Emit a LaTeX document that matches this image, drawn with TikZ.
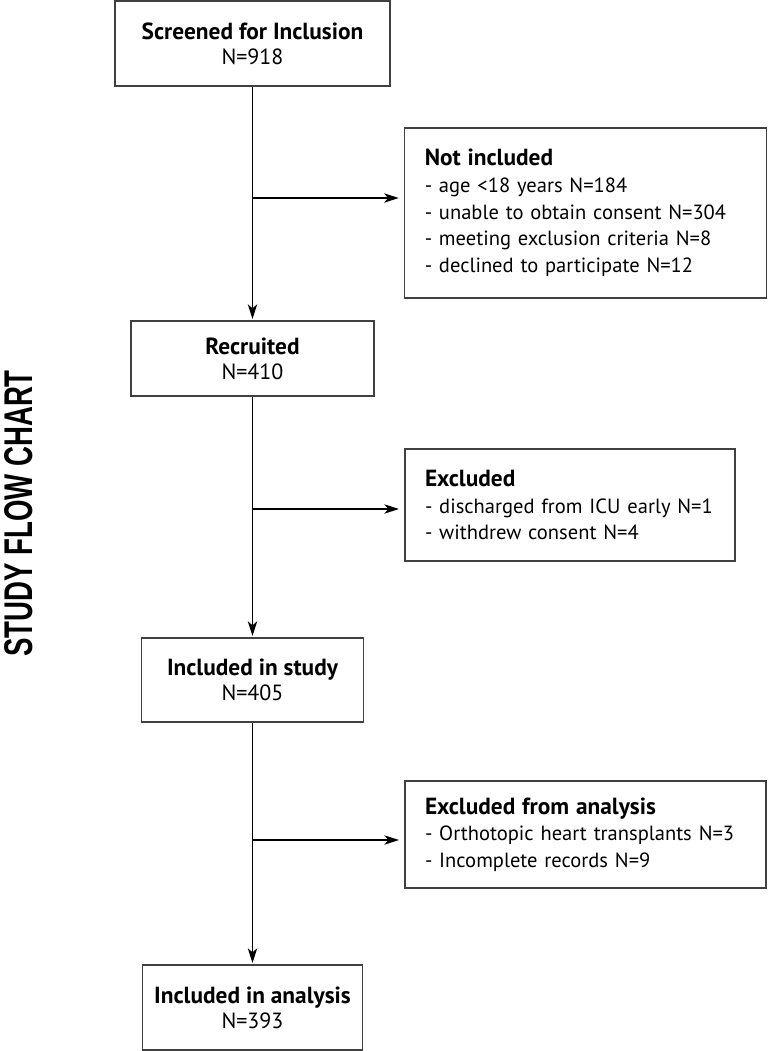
\documentclass[tikz,border=0pt]{standalone}
\usepackage{fontspec}
\setmainfont{PT Sans}
\newfontfamily\titlefont{Liberation Sans}
\usetikzlibrary{arrows.meta}
\newcommand{\hd}[1]{{\fontsize{17.5pt}{19pt}\selectfont\bfseries #1}}
\begin{document}
\begin{tikzpicture}[x=0.75pt,y=-0.75pt,
  box/.style={draw=black!75,line width=1pt,rectangle,inner sep=0pt},
  mainbox/.style={box,align=center,font=\fontsize{16.5pt}{18.75pt}\selectfont},
  sidebox/.style={box,align=left,text width=#1,inner xsep=15pt,font=\fontsize{15.4pt}{20pt}\selectfont},
  arr/.style={line width=1pt,-{Stealth[length=11pt,width=7pt,inset=3pt]}},
  link/.style={line width=1pt}
]
\useasboundingbox (0,0) rectangle (768,1051);

% title
\node[rotate=90,inner sep=0pt] (title) at (19,513.5)
  {\resizebox{215pt}{21pt}{\titlefont\bfseries STUDY FLOW CHART}};

% main column
\node[mainbox,minimum width=206.25pt,minimum height=63.75pt] (s1) at (252.5,43.5)
  {\hd{Screened for Inclusion}\\N=918};
\node[mainbox,minimum width=182.25pt,minimum height=56.25pt] (s2) at (252.5,358.5)
  {\hd{Recruited}\\N=410};
\node[mainbox,minimum width=166.5pt,minimum height=63pt] (s3) at (252.5,680)
  {\hd{Included in study}\\N=405};
\node[mainbox,minimum width=165pt,minimum height=63.75pt] (s4) at (252.5,1007.5)
  {\hd{Included in analysis}\\N=393};

% side boxes
\node[sidebox=241.5pt,minimum height=127.5pt] (e1) at (585.75,213)
  {\mbox{\hd{Not included}}\\
   \mbox{- age <18 years N=184}\\
   \mbox{- unable to obtain consent N=304}\\
   \mbox{- meeting exclusion criteria N=8}\\
   \mbox{- declined to participate N=12}};
\node[sidebox=217.5pt,minimum height=84pt] (e2) at (570,505)
  {\mbox{\hd{Excluded}}\\
   \mbox{- discharged from ICU early N=1}\\
   \mbox{- withdrew consent N=4}};
\node[sidebox=240.75pt,minimum height=80.25pt] (e3) at (585.5,834.5)
  {\mbox{\hd{Excluded from analysis}}\\
   \mbox{- Orthotopic heart transplants N=3}\\
   \mbox{- Incomplete records N=9}};

% vertical flow
\draw[arr,shorten >=1pt] (s1.south) -- (s2.north);
\draw[arr,shorten >=1pt] (s2.south) -- (s3.north);
\draw[arr,shorten >=1pt] (s3.south) -- (s4.north);

% branches
\coordinate (b1) at (252.5,198);
\coordinate (b2) at (252.5,509);
\coordinate (b3) at (252.5,840);
\draw[arr,shorten >=4pt] (b1) -- (b1 -| e1.west);
\draw[arr,shorten >=4pt] (b2) -- (b2 -| e2.west);
\draw[arr,shorten >=4pt] (b3) -- (b3 -| e3.west);
\end{tikzpicture}
\end{document}
